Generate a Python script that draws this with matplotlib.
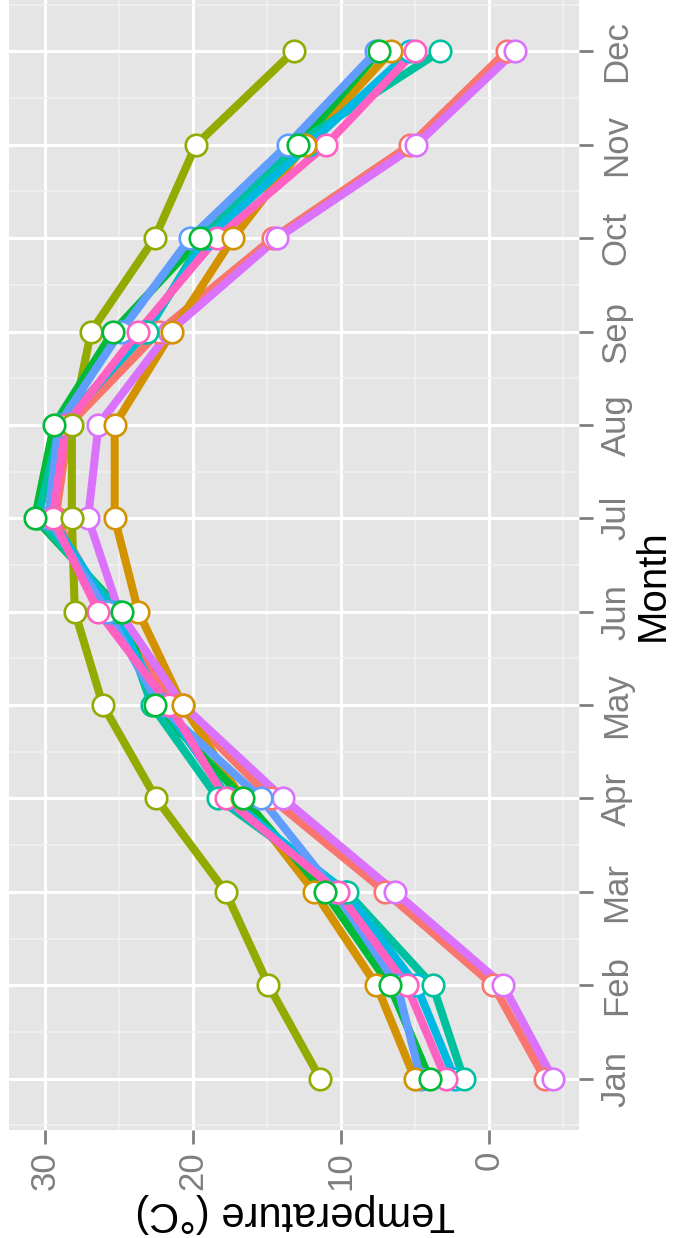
import matplotlib
matplotlib.use("Agg")
import matplotlib.pyplot as plt
import numpy as np

# -------------------------
# Data (monthly mean temperature, 9 series)
# -------------------------
months = ["Jan", "Feb", "Mar", "Apr", "May", "Jun",
          "Jul", "Aug", "Sep", "Oct", "Nov", "Dec"]

temp_salmon = [-3.8, -0.3, 7.0, 14.7, 21.0, 25.8, 29.3, 28.4, 22.3, 14.6, 5.3, -1.2]
temp_orange = [5.0, 7.6, 11.8, 16.7, 20.7, 23.7, 25.3, 25.3, 21.4, 17.3, 12.4, 6.6]
temp_olive = [11.4, 14.9, 17.8, 22.5, 26.1, 28.0, 28.2, 28.2, 26.9, 22.6, 19.8, 13.2]
temp_green = [4.0, 6.7, 11.1, 16.6, 22.6, 24.8, 30.7, 29.4, 25.4, 19.5, 12.9, 7.4]
temp_teal = [1.7, 3.8, 9.6, 18.3, 22.8, 25.0, 30.5, 29.0, 23.1, 19.3, 13.1, 3.3]
temp_cyan = [2.3, 4.9, 9.7, 17.6, 22.0, 25.5, 29.6, 28.8, 23.3, 19.0, 12.2, 5.3]
temp_blue = [4.6, 6.2, 10.4, 15.4, 22.3, 25.8, 29.8, 29.1, 24.9, 20.2, 13.6, 7.6]
temp_violet = [-4.35, -0.97, 6.35, 13.9, 20.7, 25.0, 27.1, 26.4, 21.6, 14.3, 4.9, -1.76]
temp_pink = [2.9, 5.56, 10.2, 17.8, 21.6, 26.4, 29.5, 28.6, 23.7, 18.4, 11.0, 5.0]

series = [
    (temp_salmon, "#F8766D"),
    (temp_orange, "#D39200"),
    (temp_olive, "#93AA00"),
    (temp_green, "#00BA38"),
    (temp_teal, "#00C19F"),
    (temp_cyan, "#00B9E3"),
    (temp_blue, "#619CFF"),
    (temp_violet, "#DB72FB"),
    (temp_pink, "#FF61C3"),
]
# order in which the points are stacked
point_order = [0, 7, 5, 4, 6, 8, 1, 2, 3]

PANEL_BG = "#E5E5E5"
TICK_GREY = "#7F7F7F"
TICK_FONT = ["Liberation Sans Narrow", "Liberation Sans", "DejaVu Sans"]
TITLE_FONT = ["Liberation Sans", "DejaVu Sans"]

fig = plt.figure(figsize=(6.74, 12.38), dpi=100)
ax = fig.add_axes([9 / 674, 108 / 1238, 570 / 674, 1130 / 1238])
ax.set_facecolor(PANEL_BG)

y = np.arange(1, 13)

# lines
for vals, col in series:
    ax.plot(vals, y, color=col, lw=5.8, solid_capstyle="butt", zorder=3)

# points
for k, i in enumerate(point_order):
    vals, col = series[i]
    ax.plot(vals, y, ls="none", marker="o", ms=15.5, mfc="white",
            mec=col, mew=1.9, zorder=4 + k)

# axes (chart drawn rotated: temperature horizontal, reversed)
ax.set_xlim(32.45, -6.1)
ax.set_ylim(0.45, 12.55)

ax.set_xticks([0, 10, 20, 30])
ax.set_xticks([-5, 5, 15, 25], minor=True)
ax.set_yticks(y)
ax.set_yticks(np.arange(0.5, 13, 1.0), minor=True)
ax.set_yticklabels(months)

ax.grid(which="major", color="white", lw=2.2)
ax.grid(which="minor", color="#F2F2F2", lw=1.1)
ax.set_axisbelow(True)

for spine in ax.spines.values():
    spine.set_visible(False)

ax.yaxis.tick_right()
ax.tick_params(axis="both", which="major", length=10, width=2,
               color=TICK_GREY, labelcolor=TICK_GREY, pad=5)
ax.tick_params(axis="both", which="minor", length=0)

for lab in ax.get_yticklabels():
    lab.set_rotation(90)
    lab.set_va("center")
    lab.set_fontsize(25)
    lab.set_family(TICK_FONT)
for lab in ax.get_xticklabels():
    lab.set_rotation(90)
    lab.set_ha("center")
    lab.set_fontsize(25)
    lab.set_family(TICK_FONT)

# axis titles
fig.text(295 / 674, 1 - 1213 / 1238, "Temperature (°C)", rotation=180,
         ha="center", va="center", fontsize=30, family=TITLE_FONT, color="black")
fig.text(653 / 674, 1 - 585 / 1238, "Month", rotation=90,
         ha="center", va="center", fontsize=29, family=TICK_FONT, color="black")

fig.savefig("out.png", dpi=100)
plt.close(fig)
